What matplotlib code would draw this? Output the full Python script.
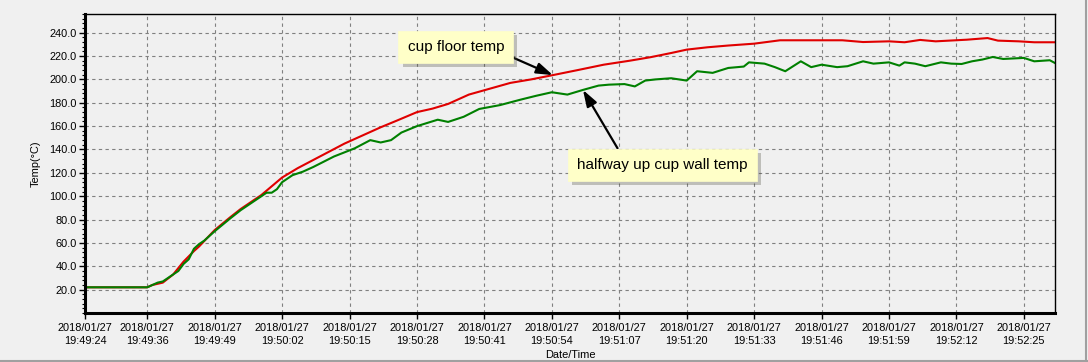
import numpy as np
import matplotlib
matplotlib.use('Agg')
import matplotlib.pyplot as plt
import matplotlib.patheffects as pe
from matplotlib.lines import Line2D

plt.rcParams['font.family'] = ['Liberation Sans', 'DejaVu Sans']

# seconds after 2018/01/27 19:49:24
floor_t = [0, 12, 13, 15, 17, 19, 21, 22, 25, 28, 30, 34, 38, 41, 44, 47, 50, 53, 57,
           60, 64, 67, 70, 74, 78, 82, 86, 90, 95, 100, 105, 109, 113, 116, 120, 124,
           129, 134, 140, 146, 150, 155, 158, 161, 164, 170, 174, 176, 180, 183, 187]
floor_temp = [22, 22, 24, 26, 33, 44, 53, 57, 71, 82, 89, 101, 116, 124, 131, 138, 145,
              151, 159, 164.5, 172, 175, 179, 187, 192, 197, 200, 203.5, 208, 212.6, 216,
              219, 222.6, 225.5, 227.5, 229, 230.6, 233.5, 233.5, 233.5, 232, 232.6,
              231.8, 233.8, 232.6, 234, 235.4, 233.2, 232.6, 231.8, 231.8]

wall_t = [0, 12, 13, 14, 15, 17, 18, 19, 20, 21, 22, 23, 25, 28, 30, 33, 35, 36, 37, 38,
          40, 42, 44, 48, 52, 55, 57, 59, 61, 64, 68, 70, 73, 76, 80, 84, 87, 90, 93,
          96, 99, 101, 104, 106, 108, 110, 113, 116, 118, 121, 124, 127, 128, 131, 133,
          135, 138, 140, 142, 145, 147, 150, 152, 155, 157, 158, 160, 162, 165, 167, 169,
          171, 173, 175, 177, 181, 183, 186, 187]
wall_temp = [22, 22, 24, 26, 27, 33, 36, 42, 46, 55, 59, 62, 70, 81, 88, 97, 103, 103,
             106, 112, 118, 121, 125, 134, 141, 148, 146, 148, 154.5, 160, 165.5, 163.6,
             168, 174.7, 178, 182.7, 186, 189, 187, 191, 194.7, 195.5, 196, 194, 199,
             200, 201, 199, 207, 205.6, 209.8, 211, 214.6, 213.5, 210.5, 207, 215.5, 210.5,
             212.6, 210.5, 211.3, 215.5, 213.5, 214.6, 211.8, 214.6, 213.5, 211.3, 214.6,
             213.5, 213.2, 215.5, 217, 219.2, 217.5, 218.4, 215.5, 216.4, 214]

tick_t = [0, 12, 25, 38, 51, 64, 77, 90, 103, 116, 129, 142, 155, 168, 181]
tick_labels = ['2018/01/27\n19:49:24', '2018/01/27\n19:49:36', '2018/01/27\n19:49:49',
               '2018/01/27\n19:50:02', '2018/01/27\n19:50:15', '2018/01/27\n19:50:28',
               '2018/01/27\n19:50:41', '2018/01/27\n19:50:54', '2018/01/27\n19:51:07',
               '2018/01/27\n19:51:20', '2018/01/27\n19:51:33', '2018/01/27\n19:51:46',
               '2018/01/27\n19:51:59', '2018/01/27\n19:52:12', '2018/01/27\n19:52:25']

bg = '#F0F0F0'
fig = plt.figure(figsize=(10.88, 3.62), dpi=100, facecolor=bg)
ax = fig.add_axes([85 / 1088, 1 - 313 / 362, 970 / 1088, 299 / 362])
ax.set_facecolor(bg)

ax.plot(floor_t, floor_temp, color='#E00000', lw=1.5)
ax.plot(wall_t, wall_temp, color='#008000', lw=1.5)

ax.set_xlim(0, 187)
ax.set_ylim(0, 256)
ax.set_xticks(tick_t)
ax.set_xticklabels(tick_labels, fontsize=7.9, linespacing=1.35)
ax.set_yticks(np.arange(20, 241, 20))
ax.set_yticklabels([f'{v:.1f}' for v in np.arange(20, 241, 20)], fontsize=7.9)
ax.set_yticks(np.arange(0, 257, 4), minor=True)
ax.tick_params(axis='y', which='major', length=4, width=1, pad=2)
ax.tick_params(axis='y', which='minor', length=2, width=0.8)
ax.tick_params(axis='x', which='major', length=4, width=1, pad=3)

ax.grid(True, which='major', ls=(0, (3, 3)), color='#808080', lw=0.8)

ax.spines['left'].set_linewidth(2.2)
ax.spines['bottom'].set_linewidth(2.2)
ax.spines['top'].set_linewidth(1)
ax.spines['right'].set_linewidth(1)

ax.set_ylabel('Temp(°C)', fontsize=7.9, labelpad=6)
ax.set_xlabel('Date/Time', fontsize=7.9, labelpad=3)

box = dict(boxstyle='square,pad=0.6', fc='#FFFFC8', ec='#FFFFC8', lw=0.5)
arrow = dict(arrowstyle='-|>,head_length=0.9,head_width=0.3', color='black', lw=1.6,
             shrinkA=0, shrinkB=0)

a1 = ax.annotate('cup floor temp', xy=(90.2, np.interp(90.2, floor_t, floor_temp)),
                 xytext=(71.5, 228), ha='center', va='center', fontsize=11,
                 bbox=box, arrowprops=dict(arrow, relpos=(1, 0)))
a2 = ax.annotate('halfway up cup wall temp', xy=(96, np.interp(96, wall_t, wall_temp)),
                 xytext=(111.3, 127), ha='center', va='center', fontsize=11,
                 bbox=box, arrowprops=dict(arrow, relpos=(0.27, 1)))
for a in (a1, a2):
    a.get_bbox_patch().set_path_effects([pe.SimplePatchShadow(offset=(3, -3), alpha=0.3),
                                         pe.Normal()])

# window frame
fig.add_artist(Line2D([0, 1], [0.002, 0.002], color='#A0A0A0', lw=1.5, transform=fig.transFigure))
fig.add_artist(Line2D([0.998, 0.998], [0, 1], color='#A0A0A0', lw=1.5, transform=fig.transFigure))

fig.savefig('out.png', dpi=100, facecolor=bg)
